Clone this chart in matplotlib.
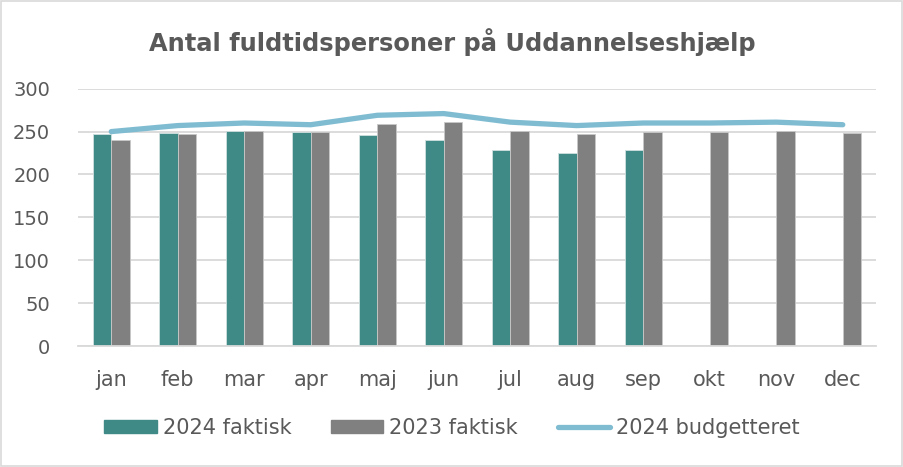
import matplotlib
matplotlib.use("Agg")
import matplotlib.pyplot as plt
import numpy as np
from matplotlib.patches import Rectangle, Patch
from matplotlib.lines import Line2D

months = ["jan", "feb", "mar", "apr", "maj", "jun", "jul", "aug", "sep", "okt", "nov", "dec"]
actual_2024 = [247, 248, 251, 249, 246, 240, 228, 225, 228, None, None, None]
actual_2023 = [240, 247, 251, 249, 259, 261, 251, 247, 250, 250, 251, 248]
budget_2024 = [250, 257, 260, 258, 269, 271, 261, 257, 260, 260, 261, 258]
yticks = [0, 50, 100, 150, 200, 250, 300]

TEXT = "#595959"
TEAL = "#3F8A87"
GRAY = "#808080"
LINE = "#7FBCD2"
GRID = "#D9D9D9"

plt.rcParams["font.family"] = ["DejaVu Sans"]

fig = plt.figure(figsize=(9.04, 4.67), dpi=100)
ax = fig.add_axes([78/904, 1-346/467, (876-78)/904, (346-88.7)/467])

x = np.arange(len(months))
w = 0.28
v24 = [np.nan if v is None else v for v in actual_2024]
ax.bar(x - w/2, v24, width=w, color=TEAL, edgecolor="#D0E0DF", linewidth=0.6, zorder=2)
ax.bar(x + w/2, actual_2023, width=w, color=GRAY, edgecolor="#C8C8C8", linewidth=0.6, zorder=2)
ax.plot(x, budget_2024, color=LINE, linewidth=3.8, solid_capstyle="round", zorder=3)

ax.set_xlim(-0.5, len(months) - 0.5)
ax.set_ylim(0, 300)
ax.set_yticks(yticks)
ax.set_xticks(x)
ax.set_xticklabels(months)
ax.yaxis.grid(True, color=GRID, linewidth=1.3, zorder=0)
ax.set_axisbelow(True)
for s in ["top", "right", "left"]:
    ax.spines[s].set_visible(False)
ax.spines["bottom"].set_color(GRID)
ax.spines["bottom"].set_linewidth(1.3)
ax.tick_params(axis="both", length=0, colors=TEXT)
ax.tick_params(axis="y", pad=20, labelsize=14)
ax.tick_params(axis="x", pad=17, labelsize=15)

fig.text(0.5, 1-42/467, "Antal fuldtidspersoner på Uddannelseshjælp", ha="center", va="center",
         fontsize=17.4, fontweight="bold", color=TEXT)

handles = [Patch(facecolor=TEAL, edgecolor=TEAL), Patch(facecolor=GRAY, edgecolor=GRAY),
           Line2D([], [], color=LINE, linewidth=3.8, solid_capstyle="round")]
labels = ["2024 faktisk", "2023 faktisk", "2024 budgetteret"]
leg = fig.legend(handles, labels, loc="center", bbox_to_anchor=(0.5, 1-428/467), ncol=3,
                 frameon=False, fontsize=15, labelcolor=TEXT, handlelength=2.5, handleheight=0.62,
                 handletextpad=0.3, columnspacing=1.9)

fig.patches.append(Rectangle((0.001, 0.002), 0.997, 0.995, transform=fig.transFigure,
                             fill=False, edgecolor=GRID, linewidth=1.2))

fig.savefig("out.png", dpi=100, facecolor="white")
